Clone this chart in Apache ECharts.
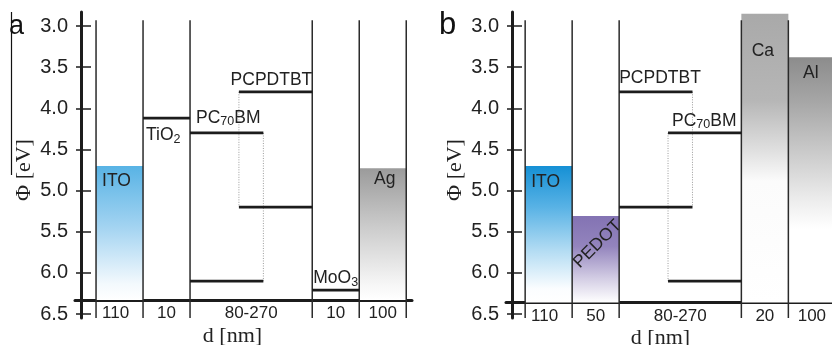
<!DOCTYPE html>
<html>
<head>
<meta charset="utf-8">
<script src="https://cdn.jsdelivr.net/npm/echarts@6/dist/echarts.min.js"></script>
<style>
  html, body { margin: 0; padding: 0; background: #fff; }
  #chart { width: 832px; height: 345px; }
</style>
</head>
<body>
<div id="chart"></div>
<script>
// Work function axis Φ (eV)
const energyMin = 3.0;
const energyMax = 6.5;
const energyStep = 0.5;

// ---- Device a: ITO / TiO2 / PCPDTBT:PC70BM / MoO3 / Ag ----
const thicknessA = ['110', '10', '80-270', '10', '100'];
const slabNamesA = ['ITO', 'Ag'];
const slabColsA = [0, 4];
const slabPhiA = [4.70, 4.73];
const levelNamesA = ['TiO2', 'MoO3'];
const levelColsA = [1, 3];
const levelPhiA = [4.12, 6.21];
const donorA = [3.80, 5.20];     // PCPDTBT LUMO, HOMO
const acceptorA = [4.30, 6.10];  // PC70BM LUMO, HOMO

// ---- Device b: ITO / PEDOT / PCPDTBT:PC70BM / Ca / Al ----
const thicknessB = ['110', '50', '80-270', '20', '100'];
const slabNamesB = ['ITO', 'PEDOT', 'Ca', 'Al'];
const slabColsB = [0, 1, 3, 4];
const slabPhiB = [4.70, 5.31, 2.85, 3.38];
const levelNamesB = [];
const levelColsB = [];
const levelPhiB = [];
const donorB = [3.80, 5.20];
const acceptorB = [4.30, 6.10];

const donorName = 'PCPDTBT';
const acceptorName = 'PC70BM';

// ---------------- layout & style ----------------
const SANS = '"Liberation Sans", Arial, sans-serif';
const SERIF = '"Liberation Serif", "Times New Roman", serif';
const INK = '#1c1c1c';
const PLOT_TOP = 26;
const PLOT_H = 288;
const UNIT = 47;                  // px per column-width unit
const COL_W = [1, 1, 2.6, 1, 1];  // relative column widths
const SPAN_FRAC = 0.6;            // share of the blend column covered by each material's levels
const LINE_TOP = 2.93, LINE_BOTTOM = 6.55;
const LABEL_SIZE = 17.5;

function yPx(phi) {
  return PLOT_TOP + (phi - energyMin) / (energyMax - energyMin) * PLOT_H;
}

const FILL = {
  ITO_a: [[0, '#58b3e5'], [0.45, '#a2d3f1'], [0.88, '#f3f9fd'], [1, '#ffffff']],
  Ag_a: [[0, '#9b9b9b'], [0.45, '#cccccc'], [0.88, '#f6f6f6'], [1, '#ffffff']],
  ITO_b: [[0, '#1590d5'], [0.3, '#58b2e5'], [0.62, '#b3dcf3'], [0.9, '#fbfdff'], [1, '#ffffff']],
  PEDOT_b: [[0, '#8373b3'], [0.35, '#9384bd'], [0.72, '#d3cde4'], [1, '#ffffff']],
  Ca_b: [[0, '#a9a9a9'], [0.3, '#b6b6b6'], [0.48, '#e1e1e1'], [0.58, '#fbfbfb'], [1, '#ffffff']],
  Al_b: [[0, '#8c8c8c'], [0.18, '#a6a6a6'], [0.38, '#c9c9c9'], [0.59, '#eeeeee'], [0.7, '#ffffff'], [1, '#ffffff']]
};

// label placement for filled layers: alignment, offset from column left/center, offset from top edge
const SLAB_LABEL = {
  ITO_a: { align: 'left', dx: 6, dy: 15 },
  Ag_a: { align: 'center', dx: 2, dy: 11 },
  ITO_b: { align: 'left', dx: 6, dy: 16 },
  PEDOT_b: { align: 'center', dx: 2, dy: 28, rot: Math.PI / 4 },
  Ca_b: { align: 'center', dx: -2, dy: 38 },
  Al_b: { align: 'center', dx: -1, dy: 16 }
};
const LEVEL_LABEL = {
  TiO2: { dx: 3, dy: 17 },
  MoO3: { dx: 1, dy: -12 }
};

const panels = [
  {
    tag: 'a', axisX: 81, rightEdge: 412, lead: 0.32, axisPhi: 6.33, nameShift: 22, firstShift: -4,
    thickness: thicknessA, slabNames: slabNamesA, slabCols: slabColsA, slabPhi: slabPhiA,
    levelNames: levelNamesA, levelCols: levelColsA, levelPhi: levelPhiA,
    donor: donorA, acceptor: acceptorA, acceptorLeft: true
  },
  {
    tag: 'b', axisX: 512, rightEdge: 832, lead: 0.28, axisPhi: 6.36, nameShift: 17, firstShift: -4,
    thickness: thicknessB, slabNames: slabNamesB, slabCols: slabColsB, slabPhi: slabPhiB,
    levelNames: levelNamesB, levelCols: levelColsB, levelPhi: levelPhiB,
    donor: donorB, acceptor: acceptorB, acceptorLeft: false
  }
];

// text with numeric subscripts (TiO2 -> TiO₂ etc.)
function subText(name) {
  return name.replace(/(\d+)/g, '{s|$1}');
}
const SUB_RICH = { s: { fontSize: 12.5, fontFamily: SANS, padding: [8, 0, 0, 0] } };

function textEl(x, y, text, align, extra) {
  return Object.assign({
    type: 'text', x: x, y: y,
    style: {
      text: subText(text), fontSize: LABEL_SIZE, fontFamily: SANS, fill: '#222',
      align: align, verticalAlign: 'middle', rich: SUB_RICH
    }
  }, extra || {});
}

function lineEl(x1, y1, x2, y2, style) {
  return { type: 'line', shape: { x1: x1, y1: y1, x2: x2, y2: y2 }, style: style };
}

function renderPanel(p) {
  return function (params, api) {
    const pt = (x, phi) => api.coord([x, phi]);
    const edges = [p.lead];
    COL_W.forEach(w => edges.push(edges[edges.length - 1] + w));
    const fills = [], lines = [], labels = [];

    // filled electrode / hole-transport layers
    p.slabNames.forEach((name, i) => {
      const c = p.slabCols[i];
      const a = pt(edges[c], p.slabPhi[i]);
      const b = pt(edges[c + 1], p.axisPhi);
      const key = name + '_' + p.tag;
      fills.push({
        type: 'rect',
        shape: { x: a[0], y: a[1], width: b[0] - a[0], height: b[1] - a[1] },
        style: { fill: new echarts.graphic.LinearGradient(0, 0, 0, 1,
          FILL[key].map(s => ({ offset: s[0], color: s[1] }))) }
      });
      const lp = SLAB_LABEL[key];
      const lx = lp.align === 'left' ? a[0] + lp.dx : (a[0] + b[0]) / 2 + lp.dx;
      labels.push(textEl(lx, a[1] + lp.dy, name, lp.align, lp.rot ? { rotation: lp.rot } : null));
    });

    // column separators (also form the thickness ticks below the axis)
    edges.forEach(x => {
      const t = pt(x, LINE_TOP), btm = pt(x, LINE_BOTTOM);
      lines.push(lineEl(t[0], t[1], btm[0], btm[1], { stroke: '#2a2a2a', lineWidth: 1.5 }));
    });

    // single transport levels
    p.levelNames.forEach((name, i) => {
      const c = p.levelCols[i];
      const a = pt(edges[c], p.levelPhi[i]);
      const b = pt(edges[c + 1], p.levelPhi[i]);
      lines.push(lineEl(a[0], a[1], b[0], b[1], { stroke: INK, lineWidth: 2.8 }));
      const lp = LEVEL_LABEL[name];
      labels.push(textEl(a[0] + lp.dx, a[1] + lp.dy, name, 'left'));
    });

    // blend: LUMO/HOMO of donor and acceptor
    const blendL = edges[2], blendR = edges[3];
    const spanW = SPAN_FRAC * COL_W[2];
    const spans = p.acceptorLeft
      ? [{ lv: p.acceptor, name: acceptorName, x0: blendL, x1: blendL + spanW, side: 'L' },
         { lv: p.donor, name: donorName, x0: blendR - spanW, x1: blendR, side: 'R' }]
      : [{ lv: p.donor, name: donorName, x0: blendL, x1: blendL + spanW, side: 'L' },
         { lv: p.acceptor, name: acceptorName, x0: blendR - spanW, x1: blendR, side: 'R' }];
    spans.forEach(s => {
      const dotX = s.side === 'L' ? s.x1 : s.x0;
      const d1 = pt(dotX, s.lv[0]), d2 = pt(dotX, s.lv[1]);
      lines.push(lineEl(d1[0], d1[1], d2[0], d2[1],
        { stroke: '#9a9a9a', lineWidth: 1, lineDash: [1, 1.5] }));
    });
    spans.forEach(s => {
      s.lv.forEach(e => {
        const a = pt(s.x0, e), b = pt(s.x1, e);
        lines.push(lineEl(a[0], a[1], b[0], b[1], { stroke: INK, lineWidth: 2.8 }));
      });
      const a = pt(s.x0, s.lv[0]), b = pt(s.x1, s.lv[0]);
      if (s.side === 'R' && s.name === donorName) {
        labels.push(textEl(b[0], a[1] - 12, s.name, 'right'));
      } else if (s.side === 'L' && s.name === acceptorName) {
        labels.push(textEl(a[0] + 6, a[1] - 15, s.name, 'left'));
      } else if (s.side === 'L') {
        labels.push(textEl(a[0], a[1] - 14, s.name, 'left'));
      } else {
        labels.push(textEl(a[0] + 4, a[1] - 12, s.name, 'left'));
      }
    });

    // layer thickness labels under the axis line
    const axisY = pt(0, p.axisPhi)[1];
    p.thickness.forEach((t, c) => {
      const xc = pt((edges[c] + edges[c + 1]) / 2, p.axisPhi)[0] + (c === 0 ? p.firstShift : 0);
      labels.push({
        type: 'text', x: xc, y: axisY + 13.5,
        style: { text: t, fontSize: 17, fontFamily: SANS, fill: '#222', align: 'center', verticalAlign: 'middle' }
      });
    });

    return { type: 'group', children: fills.concat(lines, labels) };
  };
}

const grid = [], xAxis = [], yAxis = [], series = [];
panels.forEach(p => {
  const w = p.rightEdge - p.axisX;
  // plotting grid: energy scale, tick labels and crossing ticks
  const g0 = grid.length;
  grid.push({ left: p.axisX, top: PLOT_TOP, width: w, height: PLOT_H, outerBoundsMode: 'none', containLabel: false });
  xAxis.push({ gridIndex: g0, type: 'value', min: 0, max: w / UNIT, show: false });
  const yMain = yAxis.length;
  yAxis.push({
    gridIndex: g0, type: 'value', position: 'left', inverse: true,
    min: energyMin, max: energyMax, interval: energyStep,
    axisLine: { show: false },
    axisTick: { show: true, inside: false, length: 5, lineStyle: { color: INK, width: 1.5 } },
    axisLabel: { margin: 13, fontSize: 20, fontFamily: SANS, color: '#222', formatter: v => v.toFixed(1) },
    splitLine: { show: false },
    name: 'Φ [eV]', nameLocation: 'middle', nameGap: 46, nameRotate: 90,
    nameTextStyle: { fontFamily: SERIF, fontSize: 22, color: '#222' }
  });
  yAxis.push({
    gridIndex: g0, type: 'value', position: 'left', inverse: true,
    min: energyMin, max: energyMax, interval: energyStep,
    axisLine: { show: false },
    axisTick: { show: true, inside: true, length: 10, lineStyle: { color: INK, width: 1.5 } },
    axisLabel: { show: false }, splitLine: { show: false }
  });
  series.push({
    type: 'custom', xAxisIndex: g0, yAxisIndex: yMain, silent: true,
    renderItem: renderPanel(p), data: [[0, energyMin]]
  });

  // long vertical axis line
  const g1 = grid.length;
  grid.push({ left: p.axisX, top: 12, width: 1, height: yPx(LINE_BOTTOM) - 12, outerBoundsMode: 'none', containLabel: false });
  xAxis.push({ gridIndex: g1, type: 'value', show: false });
  yAxis.push({
    gridIndex: g1, type: 'value', position: 'left', min: 0, max: 1,
    axisLine: { show: true, onZero: false, lineStyle: { color: INK, width: 3 } },
    axisTick: { show: false }, axisLabel: { show: false }, splitLine: { show: false }
  });

  // horizontal thickness axis
  const g2 = grid.length;
  const x0 = p.axisX - 6;
  grid.push({ left: x0, top: 12, width: p.rightEdge - x0, height: yPx(p.axisPhi) - 12, outerBoundsMode: 'none', containLabel: false });
  xAxis.push({
    gridIndex: g2, type: 'value', min: 0, max: 1,
    axisLine: { show: true, onZero: false, lineStyle: { color: INK, width: 3 } },
    axisTick: { show: false }, axisLabel: { show: false }, splitLine: { show: false },
    name: 'd [nm]', nameLocation: 'middle', nameGap: 25,
    nameTextStyle: { fontFamily: SERIF, fontSize: 22, color: '#222', padding: [0, p.nameShift, 0, 0] }
  });
  yAxis.push({ gridIndex: g2, type: 'value', show: false });
});

const chart = echarts.init(document.getElementById('chart'));
chart.setOption({
  animation: false,
  backgroundColor: '#ffffff',
  grid: grid, xAxis: xAxis, yAxis: yAxis, series: series,
  graphic: [
    { type: 'line', shape: { x1: 11.5, y1: 12, x2: 11.5, y2: 175 }, style: { stroke: '#111', lineWidth: 1.2 } },
    { type: 'text', x: 9, y: 27, style: { text: 'a', fontSize: 27, fontFamily: SANS, fill: '#111', verticalAlign: 'middle' } },
    { type: 'text', x: 439, y: 25, style: { text: 'b', fontSize: 31, fontFamily: SANS, fill: '#111', verticalAlign: 'middle' } }
  ]
});
</script>
</body>
</html>
